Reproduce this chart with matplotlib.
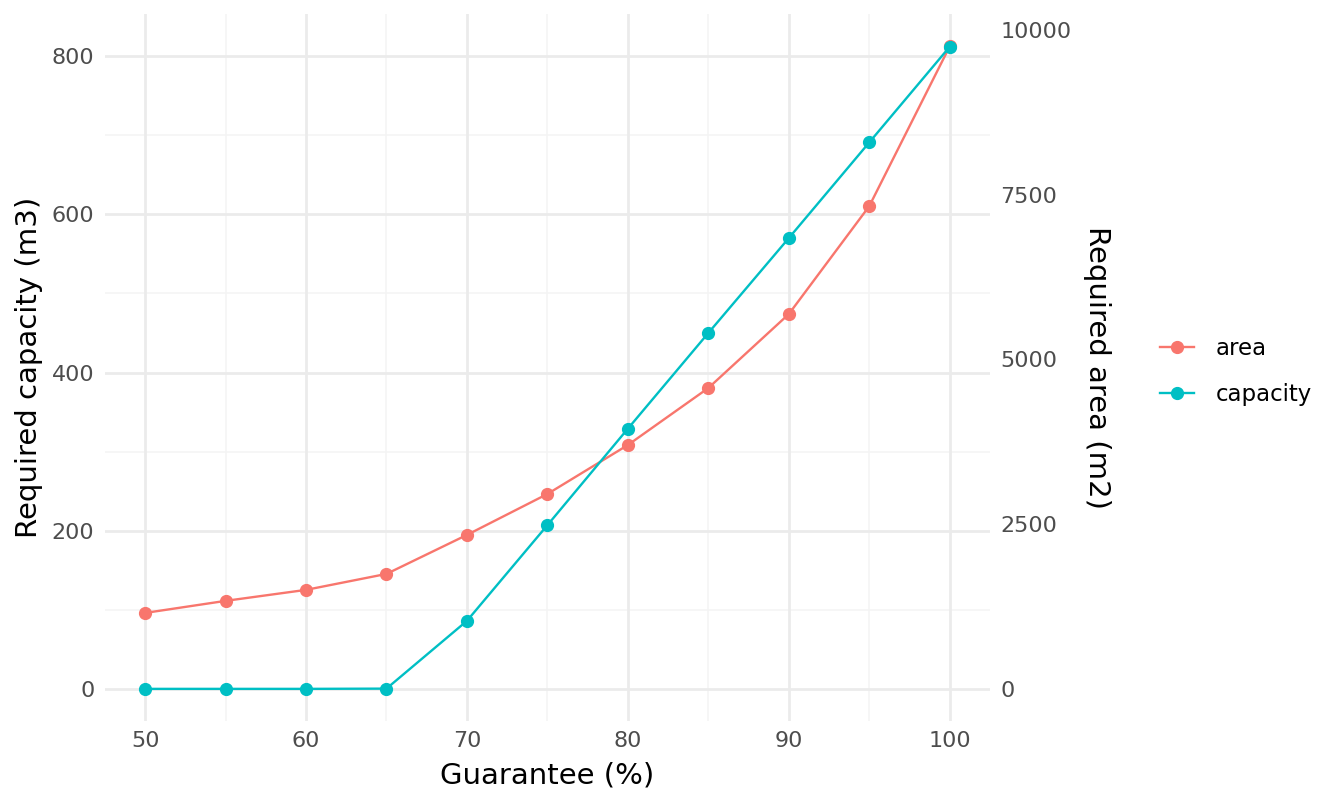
import matplotlib
matplotlib.use("Agg")
import matplotlib.pyplot as plt
from matplotlib.lines import Line2D


# DATA
guarantee = [50, 55, 60, 65, 70, 75, 80, 85, 90, 95, 100]

capacity_m3 = [0, 0, 0, 0.3, 86, 207, 329, 450, 570, 691, 812]

area_m2 = [1152, 1335, 1502, 1744, 2336, 2957, 3700, 4565, 5687, 7325, 9750]

# secondary axis: area = capacity * SCALE
SCALE = 12

x_major = [50, 60, 70, 80, 90, 100]
x_minor = [55, 65, 75, 85, 95]
y_major = [0, 200, 400, 600, 800]
y_minor = [100, 300, 500, 700]
y2_ticks = [0, 2500, 5000, 7500, 10000]


# STYLE
AREA_COLOR = "#F8766D"
CAPACITY_COLOR = "#00BFC4"
TICK_COLOR = "#4D4D4D"
MAJOR_GRID = "#EBEBEB"
MINOR_GRID = "#F4F4F4"

TICK_SIZE = 16
TITLE_SIZE = 21
LEGEND_SIZE = 16.5

plt.rcParams["font.family"] = ["DejaVu Sans"]


def main():
    figure = plt.figure(figsize=(13.44, 8.06), dpi=100)
    axis = figure.add_axes([0.078, 0.1055, 0.6586, 0.877])

    axis.set_xlim(47.5, 102.5)
    axis.set_ylim(-40.6, 853.2)

    for value in x_minor:
        axis.axvline(value, color=MINOR_GRID, linewidth=1.1, zorder=0)
    for value in y_minor:
        axis.axhline(value, color=MINOR_GRID, linewidth=1.1, zorder=0)
    for value in x_major:
        axis.axvline(value, color=MAJOR_GRID, linewidth=2.0, zorder=0)
    for value in y_major:
        axis.axhline(value, color=MAJOR_GRID, linewidth=2.0, zorder=0)

    area_scaled = [value / SCALE for value in area_m2]

    axis.plot(
        guarantee,
        area_scaled,
        color=AREA_COLOR,
        linewidth=1.7,
        marker="o",
        markersize=8.5,
        zorder=3,
    )

    axis.plot(
        guarantee,
        capacity_m3,
        color=CAPACITY_COLOR,
        linewidth=1.7,
        marker="o",
        markersize=8.5,
        zorder=3,
    )

    axis.set_xticks(x_major)
    axis.set_yticks(y_major)
    axis.tick_params(
        length=0,
        labelsize=TICK_SIZE,
        labelcolor=TICK_COLOR,
        pad=7.5,
    )

    for spine in axis.spines.values():
        spine.set_visible(False)

    axis.set_xlabel("Guarantee (%)", fontsize=TITLE_SIZE, labelpad=7)
    axis.set_ylabel("Required capacity (m3)", fontsize=TITLE_SIZE, labelpad=6)

    right_axis = axis.twinx()
    right_axis.set_ylim(-40.6 * SCALE, 853.2 * SCALE)
    right_axis.set_yticks(y2_ticks)
    right_axis.set_yticklabels([str(value) for value in y2_ticks])
    right_axis.tick_params(
        length=0,
        labelsize=TICK_SIZE,
        labelcolor=TICK_COLOR,
        pad=7.5,
    )
    for spine in right_axis.spines.values():
        spine.set_visible(False)
    right_axis.set_ylabel(
        "Required area (m2)",
        fontsize=TITLE_SIZE,
        rotation=270,
        va="bottom",
        labelpad=8,
    )

    handles = [
        Line2D([0], [0], color=AREA_COLOR, linewidth=1.7,
               marker="o", markersize=8.5),
        Line2D([0], [0], color=CAPACITY_COLOR, linewidth=1.7,
               marker="o", markersize=8.5),
    ]

    figure.legend(
        handles,
        ["area", "capacity"],
        loc="center left",
        bbox_to_anchor=(0.8476, 0.539),
        frameon=False,
        fontsize=LEGEND_SIZE,
        handlelength=1.5,
        handletextpad=0.95,
        labelspacing=1.0,
    )

    figure.savefig("out.png", dpi=100)
    plt.close(figure)


if __name__ == "__main__":
    main()
